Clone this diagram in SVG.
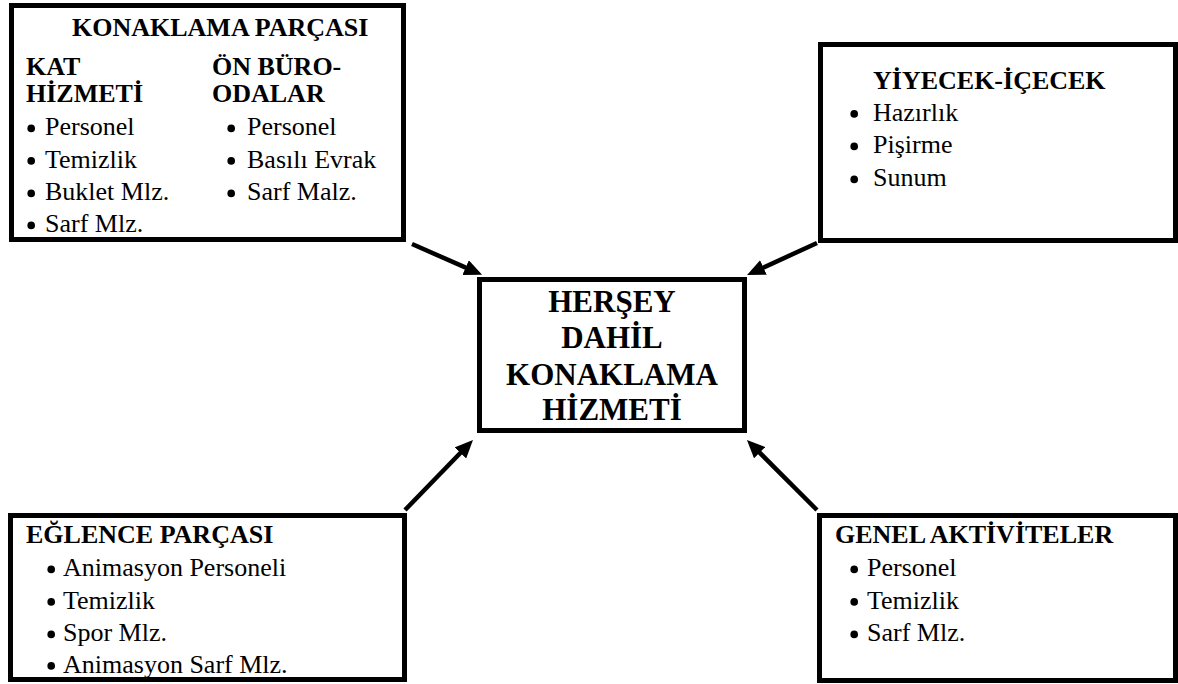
<svg xmlns="http://www.w3.org/2000/svg" width="1178" height="684" viewBox="0 0 1178 684">
  <style>
    .box { fill: #ffffff; stroke: #000000; stroke-width: 5; }
    .h { font-family: "Liberation Serif", "Times New Roman", serif; font-weight: bold; font-size: 26px; fill: #000; }
    .t { font-family: "Liberation Serif", "Times New Roman", serif; font-size: 26px; fill: #000; }
    .dot { fill: #000; }
    .c { font-family: "Liberation Serif", "Times New Roman", serif; font-weight: bold; font-size: 31px; fill: #000; text-anchor: middle; }
    .arrow { fill: none; stroke: #000; stroke-width: 4.5; marker-end: url(#head); }
  </style>
  <defs>
    <marker id="head" markerUnits="userSpaceOnUse" markerWidth="20" markerHeight="16" refX="12" refY="8" orient="auto">
      <path d="M0,0 L18,8 L0,16 Z" fill="#000"/>
    </marker>
    <circle id="bullet" r="3.8"/>
  </defs>

  <rect width="1178" height="684" fill="#ffffff"/>

  <!-- connectors -->
  <g id="connectors">
    <path class="arrow" d="M412,244 L476.6,272.4"/>
    <path class="arrow" d="M817,243 L752.5,272.5"/>
    <path class="arrow" d="M405,510 L468.8,444.3"/>
    <path class="arrow" d="M817,510 L751.2,444.2"/>
  </g>

  <!-- accommodation part -->
  <g id="konaklama">
    <rect class="box" x="11.5" y="5.5" width="392" height="234"/>
    <text class="h" x="72" y="36">KONAKLAMA PARÇASI</text>
    <text class="h" x="26" y="75">KAT</text>
    <text class="h" x="26" y="101.5">HİZMETİ</text>
    <text class="h" x="212" y="75">ÖN BÜRO-</text>
    <text class="h" x="212" y="101.5">ODALAR</text>
    <g class="dot">
      <use href="#bullet" x="31.2" y="128.4"/>
      <use href="#bullet" x="31.2" y="160.9"/>
      <use href="#bullet" x="31.2" y="193.4"/>
      <use href="#bullet" x="31.2" y="225.4"/>
      <use href="#bullet" x="231.2" y="128.4"/>
      <use href="#bullet" x="231.2" y="160.9"/>
      <use href="#bullet" x="231.2" y="193.4"/>
    </g>
    <text class="t" x="45" y="135">Personel</text>
    <text class="t" x="45" y="167.5">Temizlik</text>
    <text class="t" x="45" y="200">Buklet Mlz.</text>
    <text class="t" x="45" y="232">Sarf Mlz.</text>
    <text class="t" x="247" y="135">Personel</text>
    <text class="t" x="247" y="167.5">Basılı Evrak</text>
    <text class="t" x="247" y="200">Sarf Malz.</text>
  </g>

  <!-- food and beverage -->
  <g id="yiyecek">
    <rect class="box" x="820.5" y="44.5" width="355" height="196"/>
    <text class="h" x="873" y="89.3">YİYECEK-İÇECEK</text>
    <g class="dot">
      <use href="#bullet" x="854.2" y="113.9"/>
      <use href="#bullet" x="854.2" y="146.4"/>
      <use href="#bullet" x="854.2" y="179.4"/>
    </g>
    <text class="t" x="873" y="120.5">Hazırlık</text>
    <text class="t" x="873" y="153">Pişirme</text>
    <text class="t" x="873" y="186">Sunum</text>
  </g>

  <!-- central node -->
  <g id="hersey-dahil">
    <rect class="box" x="479.5" y="279.5" width="265" height="151"/>
    <text class="c" x="612" y="311.7">HERŞEY</text>
    <text class="c" x="612" y="348.3">DAHİL</text>
    <text class="c" x="612" y="385">KONAKLAMA</text>
    <text class="c" x="612" y="420">HİZMETİ</text>
  </g>

  <!-- entertainment part -->
  <g id="eglence">
    <rect class="box" x="10.5" y="515.5" width="394" height="164"/>
    <text class="h" x="26" y="543">EĞLENCE PARÇASI</text>
    <g class="dot">
      <use href="#bullet" x="51.2" y="569.4"/>
      <use href="#bullet" x="51.2" y="601.9"/>
      <use href="#bullet" x="51.2" y="634.4"/>
      <use href="#bullet" x="51.2" y="665.9"/>
    </g>
    <text class="t" x="63" y="576">Animasyon Personeli</text>
    <text class="t" x="63" y="608.5">Temizlik</text>
    <text class="t" x="63" y="641">Spor Mlz.</text>
    <text class="t" x="63" y="672.5">Animasyon Sarf Mlz.</text>
  </g>

  <!-- general activities -->
  <g id="genel">
    <rect class="box" x="819.5" y="515.5" width="356" height="165"/>
    <text class="h" x="835" y="543">GENEL AKTİVİTELER</text>
    <g class="dot">
      <use href="#bullet" x="854.2" y="569.4"/>
      <use href="#bullet" x="854.2" y="601.9"/>
      <use href="#bullet" x="854.2" y="634.4"/>
    </g>
    <text class="t" x="867" y="576">Personel</text>
    <text class="t" x="867" y="608.5">Temizlik</text>
    <text class="t" x="867" y="641">Sarf Mlz.</text>
  </g>
</svg>
